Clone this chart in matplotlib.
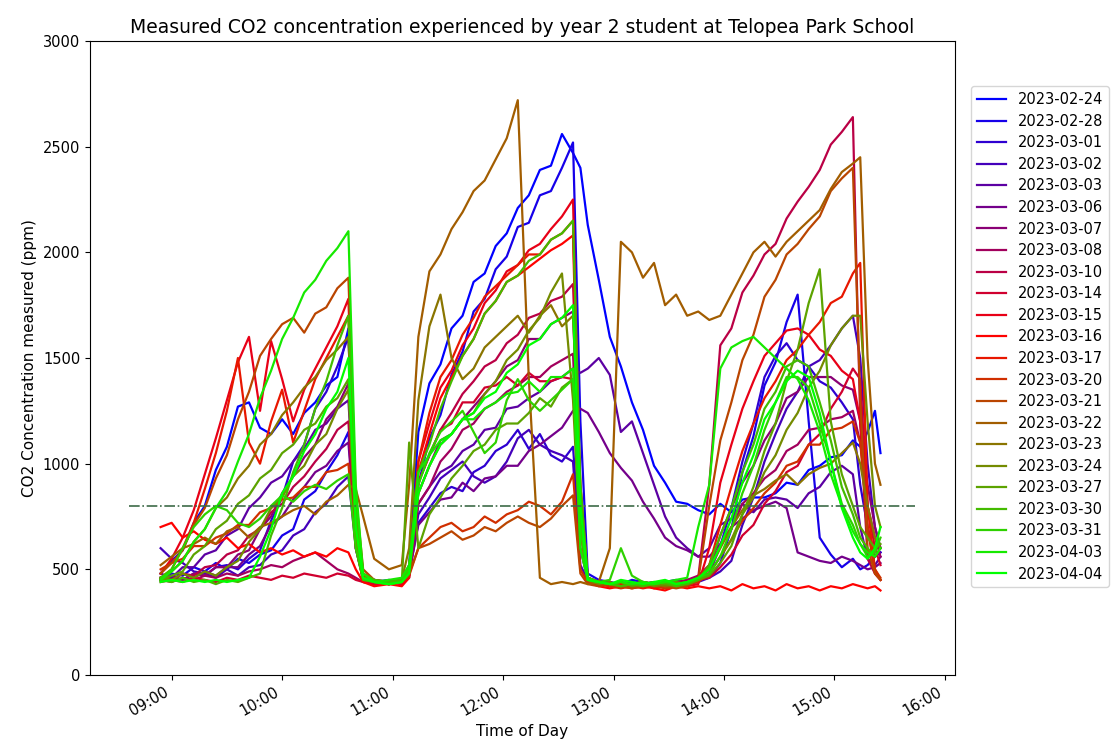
import numpy as np
import pandas as pd
import matplotlib
matplotlib.use("Agg")
import matplotlib.pyplot as plt
import matplotlib.dates as mdates

# sample times shared by every day (HH:MM)
times = ["08:54", "09:00", "09:06", "09:12", "09:18", "09:24", "09:30", "09:36", "09:42",
         "09:48", "09:54", "10:00", "10:06", "10:12", "10:18", "10:24", "10:30", "10:36",
         "10:40", "10:44", "10:50", "10:58", "11:05",
         "11:09", "11:14", "11:20", "11:26", "11:32", "11:38", "11:44", "11:50", "11:56",
         "12:02", "12:08", "12:14", "12:20", "12:26", "12:32", "12:38",
         "12:42", "12:46", "12:52", "12:58", "13:04", "13:10", "13:16", "13:22", "13:28",
         "13:34", "13:40", "13:46",
         "13:52", "13:58", "14:04", "14:10", "14:16", "14:22", "14:28", "14:34", "14:40",
         "14:46", "14:52", "14:58", "15:04", "15:10",
         "15:14", "15:18", "15:22", "15:25"]

# CO2 (ppm) per day
s0224 = [480, 540, 590, 720, 800, 970, 1080, 1270, 1290, 1170, 1140, 1210, 1140, 1240, 1290, 1370, 1410, 1640,
         700, 470, 450, 440, 450,
         520, 1150, 1380, 1470, 1640, 1700, 1860, 1900, 2030, 2090, 2210, 2270, 2390, 2410, 2560, 2470,
         2400, 2130, 1870, 1600, 1460, 1290, 1160, 990, 910, 820, 810, 780,
         760, 810, 770, 830, 840, 840, 860, 910, 900, 970, 990, 1030, 1040, 1110,
         1080, 1150, 1250, 1050]
s0228 = [460, 480, 470, 510, 490, 530, 500, 550, 530, 570, 590, 660, 690, 830, 870, 960, 1040, 1150,
         600, 460, 440, 450, 440,
         500, 900, 1120, 1230, 1420, 1530, 1720, 1780, 1920, 1980, 2120, 2140, 2270, 2290, 2400, 2520,
         1200, 480, 450, 440, 430, 450, 440, 430, 440, 450, 430, 450,
         460, 530, 690, 960, 1130, 1370, 1480, 1670, 1800, 1200, 650, 570, 510, 550,
         500, 520, 560, 580]
s0301 = [450, 460, 450, 480, 470, 510, 520, 500, 550, 590, 730, 840, 1010, 1090, 1260, 1340, 1460, 1600,
         700, 470, 450, 430, 440,
         480, 720, 790, 860, 890, 870, 960, 990, 1060, 1090, 1160, 1070, 1140, 1040, 1010, 1080,
         600, 450, 440, 430, 440, 430, 420, 430, 440, 430, 450, 460,
         480, 610, 790, 1010, 1190, 1410, 1510, 1570, 1490, 1460, 1390, 1360, 1290, 1210,
         900, 700, 560, 580]
s0302 = [600, 550, 530, 490, 480, 460, 500, 470, 510, 520, 570, 590, 660, 690, 770, 810, 890, 940,
         600, 450, 440, 430, 450,
         500, 760, 840, 930, 970, 1010, 940, 910, 940, 1010, 1120, 1160, 1090, 1060, 1040, 1010,
         520, 450, 440, 430, 430, 440, 430, 440, 430, 420, 430, 440,
         460, 490, 540, 710, 840, 1010, 1140, 1260, 1340, 1460, 1490, 1560, 1640, 1700,
         1500, 1000, 700, 600]
s0303 = [480, 460, 510, 510, 570, 590, 660, 690, 790, 840, 910, 940, 1010, 1070, 1160, 1190, 1260, 1300,
         700, 460, 440, 430, 440,
         500, 810, 890, 960, 990, 1060, 1090, 1160, 1170, 1260, 1270, 1310, 1340, 1390, 1410, 1450,
         1430, 1450, 1500, 1420, 1150, 1200, 1050, 900, 750, 650, 600, 560,
         600, 710, 740, 810, 770, 830, 840, 830, 790, 860, 890, 960, 990, 950,
         700, 550, 520, 560]
s0306 = [460, 450, 480, 460, 490, 470, 510, 510, 570, 610, 710, 750, 830, 890, 960, 990, 1060, 1100,
         650, 450, 440, 440, 450,
         480, 710, 770, 830, 840, 910, 870, 930, 940, 990, 990, 1060, 1090, 1130, 1170, 1250,
         1260, 1240, 1150, 1050, 980, 920, 820, 740, 650, 610, 590, 560,
         560, 620, 700, 740, 780, 800, 820, 790, 580, 560, 540, 530, 560, 540,
         520, 500, 510, 530]
s0307 = [450, 470, 450, 480, 470, 510, 510, 570, 590, 690, 750, 860, 940, 1030, 1090, 1210, 1270, 1380,
         650, 450, 430, 440, 440,
         500, 860, 990, 1110, 1140, 1210, 1270, 1330, 1390, 1460, 1490, 1590, 1590, 1660, 1690, 1720,
         800, 460, 440, 430, 440, 420, 430, 440, 420, 430, 440, 450,
         500, 660, 790, 910, 990, 1110, 1190, 1310, 1340, 1410, 1410, 1410, 1370, 1350,
         1200, 900, 700, 600]
s0308 = [450, 440, 460, 450, 470, 460, 480, 470, 490, 500, 520, 510, 540, 560, 580, 540, 500, 480,
         460, 440, 430, 440, 430,
         460, 810, 890, 1010, 1070, 1160, 1190, 1260, 1290, 1340, 1370, 1410, 1410, 1460, 1490, 1520,
         700, 450, 430, 440, 420, 430, 440, 430, 420, 440, 450, 470,
         520, 610, 690, 810, 860, 930, 970, 1060, 1090, 1160, 1170, 1210, 1220, 1250,
         1100, 800, 650, 560]
s0310 = [460, 450, 480, 470, 510, 520, 570, 590, 660, 690, 770, 810, 890, 940, 1010, 1070, 1160, 1200,
         620, 450, 440, 430, 440,
         480, 910, 1040, 1160, 1240, 1330, 1390, 1460, 1490, 1570, 1610, 1690, 1710, 1770, 1790, 1850,
         900, 460, 440, 430, 420, 430, 440, 420, 430, 440, 430, 460,
         900, 1560, 1640, 1810, 1890, 1990, 2040, 2160, 2240, 2310, 2390, 2510, 2570, 2640,
         1200, 550, 480, 450]
s0314 = [440, 450, 440, 460, 450, 440, 460, 450, 470, 460, 450, 470, 460, 480, 470, 460, 480, 470,
         450, 440, 430, 440, 430,
         470, 910, 1040, 1160, 1190, 1290, 1290, 1360, 1370, 1410, 1370, 1430, 1390, 1390, 1410, 1400,
         700, 450, 440, 430, 420, 430, 440, 430, 420, 430, 440, 450,
         460, 510, 570, 660, 710, 810, 870, 960, 990, 1090, 1140, 1260, 1340, 1450,
         1400, 800, 600, 520]
s0315 = [480, 550, 650, 780, 950, 1120, 1300, 1480, 1600, 1250, 1580, 1400, 1200, 1350, 1450, 1550, 1650, 1780,
         800, 480, 440, 430, 450,
         500, 1010, 1190, 1360, 1440, 1560, 1640, 1760, 1820, 1910, 1940, 2010, 2040, 2110, 2170, 2250,
         800, 460, 440, 420, 430, 420, 430, 410, 420, 430, 420, 430,
         600, 910, 1090, 1260, 1390, 1510, 1570, 1630, 1640, 1610, 1540, 1510, 1440, 1400,
         1200, 700, 480, 450]
s0316 = [700, 720, 650, 680, 640, 620, 650, 600, 620, 580, 600, 570, 590, 560, 580, 560, 600, 580,
         500, 440, 420, 430, 420,
         460, 960, 1140, 1310, 1410, 1510, 1590, 1710, 1770, 1860, 1890, 1930, 1970, 2010, 2040, 2080,
         700, 440, 420, 410, 420, 410, 420, 410, 400, 420, 410, 420,
         410, 420, 400, 430, 410, 420, 400, 430, 410, 420, 400, 420, 410, 430,
         420, 410, 420, 400]
s0317 = [460, 500, 600, 720, 880, 1050, 1250, 1500, 1100, 1000, 1200, 1350, 1100, 1250, 1400, 1500, 1600, 1700,
         750, 470, 440, 430, 440,
         490, 1010, 1240, 1410, 1490, 1610, 1690, 1790, 1840, 1890, 1940, 1990, 1990, 2060, 2090, 2150,
         750, 450, 430, 420, 430, 420, 410, 420, 430, 420, 430, 450,
         520, 710, 890, 1060, 1190, 1310, 1390, 1490, 1540, 1610, 1670, 1760, 1790, 1900,
         1950, 800, 500, 450]
s0320 = [500, 530, 550, 610, 610, 650, 670, 710, 710, 770, 790, 830, 840, 890, 890, 960, 970, 1000,
         600, 450, 440, 430, 440,
         470, 600, 650, 700, 720, 680, 700, 750, 720, 760, 780, 820, 800, 760, 820, 950,
         500, 440, 430, 420, 410, 420, 430, 420, 410, 420, 430, 440,
         480, 560, 640, 730, 790, 860, 910, 990, 1010, 1090, 1090, 1160, 1170, 1200,
         1100, 700, 500, 460]
s0321 = [480, 530, 590, 710, 790, 930, 1040, 1210, 1340, 1510, 1590, 1660, 1690, 1620, 1710, 1740, 1830, 1880,
         850, 500, 450, 440, 450,
         480, 600, 620, 650, 680, 640, 660, 700, 680, 720, 750, 720, 700, 740, 800, 850,
         480, 430, 420, 430, 420, 410, 420, 430, 420, 410, 420, 450,
         800, 1110, 1290, 1490, 1610, 1790, 1870, 1990, 2040, 2110, 2170, 2290, 2350, 2400,
         1300, 600, 480, 450]
s0322 = [520, 560, 600, 620, 650, 620, 680, 700, 650, 700, 720, 750, 780, 800, 760, 820, 850, 900,
         880, 750, 550, 500, 520,
         900, 1600, 1910, 1990, 2110, 2190, 2290, 2340, 2440, 2540, 2720, 1400, 460, 430, 440, 430,
         440, 430, 440, 600, 2050, 2000, 1880, 1950, 1750, 1800, 1700, 1720,
         1680, 1700, 1800, 1900, 2000, 2050, 1980, 2050, 2100, 2150, 2200, 2300, 2380, 2420,
         2450, 1500, 1000, 900]
s0323 = [450, 490, 540, 630, 690, 790, 840, 930, 990, 1090, 1140, 1230, 1290, 1360, 1410, 1490, 1540, 1600,
         750, 480, 450, 440, 450,
         600, 1300, 1650, 1800, 1500, 1400, 1450, 1550, 1600, 1650, 1700, 1620, 1700, 1750, 1650, 1700,
         900, 460, 440, 430, 420, 430, 440, 430, 420, 430, 440, 450,
         500, 600, 700, 780, 850, 880, 920, 950, 900, 950, 980, 1000, 1050, 1100,
         1000, 800, 650, 600]
s0324 = [460, 450, 480, 460, 490, 470, 510, 540, 630, 690, 790, 840, 940, 990, 1090, 1140, 1260, 1350,
         650, 460, 440, 430, 440,
         520, 860, 990, 1090, 1140, 1210, 1240, 1330, 1390, 1490, 1540, 1630, 1690, 1810, 1900, 1300,
         600, 450, 430, 440, 420, 430, 440, 420, 430, 440, 430, 450,
         480, 560, 640, 760, 840, 960, 1040, 1160, 1240, 1360, 1440, 1560, 1640, 1700,
         1700, 1200, 800, 700]
s0327 = [450, 470, 490, 570, 610, 690, 730, 810, 850, 930, 970, 1050, 1090, 1160, 1190, 1270, 1310, 1400,
         700, 460, 440, 430, 440,
         1100, 600, 760, 840, 930, 990, 1060, 1090, 1160, 1190, 1190, 1240, 1310, 1270, 1360, 1400,
         700, 450, 440, 430, 440, 420, 430, 440, 430, 420, 440, 450,
         470, 530, 610, 760, 890, 1060, 1190, 1390, 1540, 1760, 1920, 1200, 950, 800,
         700, 650, 600, 620]
s0330 = [450, 440, 460, 440, 450, 430, 450, 440, 460, 480, 660, 790, 960, 1090, 1260, 1390, 1560, 1700,
         800, 480, 450, 440, 450,
         500, 960, 1090, 1260, 1390, 1510, 1590, 1710, 1770, 1860, 1890, 1960, 1990, 2060, 2090, 2150,
         900, 460, 440, 430, 420, 430, 420, 430, 440, 420, 430, 450,
         520, 660, 790, 960, 1090, 1260, 1340, 1460, 1490, 1460, 1290, 1110, 890, 760,
         650, 600, 560, 600]
s0331 = [460, 500, 600, 700, 760, 800, 780, 720, 700, 740, 800, 850, 820, 870, 900, 880, 920, 950,
         600, 450, 440, 430, 440,
         500, 900, 1050, 1150, 1200, 1250, 1150, 1050, 1100, 1300, 1400, 1300, 1250, 1300, 1350, 1400,
         700, 460, 440, 450, 600, 470, 440, 430, 440, 430, 440, 460,
         480, 560, 690, 860, 990, 1160, 1290, 1410, 1410, 1360, 1190, 1010, 810, 710,
         620, 560, 580, 650]
s0403 = [450, 490, 540, 630, 690, 790, 870, 1010, 1140, 1310, 1440, 1590, 1690, 1810, 1870, 1960, 2020, 2100,
         900, 480, 440, 450, 460,
         520, 960, 1040, 1110, 1140, 1210, 1210, 1260, 1290, 1330, 1340, 1390, 1340, 1410, 1410, 1450,
         600, 450, 440, 430, 440, 430, 440, 430, 440, 450, 460, 700,
         900, 1450, 1550, 1580, 1600, 1550, 1500, 1450, 1400, 1300, 1150, 950, 800, 680,
         620, 580, 560, 600]
s0404 = [440, 450, 440, 450, 440, 450, 440, 450, 460, 560, 690, 860, 940, 1060, 1140, 1260, 1340, 1500,
         700, 460, 440, 430, 440,
         480, 860, 990, 1090, 1140, 1210, 1240, 1310, 1340, 1430, 1470, 1560, 1590, 1660, 1690, 1750,
         800, 450, 440, 430, 450, 440, 430, 440, 450, 430, 440, 460,
         500, 610, 740, 910, 1040, 1210, 1290, 1390, 1440, 1410, 1240, 1010, 790, 650,
         580, 550, 600, 700]

labels = ["2023-02-24", "2023-02-28", "2023-03-01", "2023-03-02", "2023-03-03", "2023-03-06",
          "2023-03-07", "2023-03-08", "2023-03-10", "2023-03-14", "2023-03-15", "2023-03-16",
          "2023-03-17", "2023-03-20", "2023-03-21", "2023-03-22", "2023-03-23", "2023-03-24",
          "2023-03-27", "2023-03-30", "2023-03-31", "2023-04-03", "2023-04-04"]
days = [s0224, s0228, s0301, s0302, s0303, s0306, s0307, s0308, s0310, s0314, s0315, s0316,
        s0317, s0320, s0321, s0322, s0323, s0324, s0327, s0330, s0331, s0403, s0404]

# 800 ppm guideline
threshold = 800
threshold_span = ["08:37", "15:44"]

for lab, d in zip(labels, days):
    assert len(d) == len(times), (lab, len(d))

x = pd.to_datetime(["2023-01-01 " + t for t in times])
colors = plt.cm.brg(np.linspace(0, 1, len(days)))

fig = plt.figure(figsize=(11.18, 7.46), dpi=100)
ax = fig.add_axes([0.0805, 0.0952, 0.7735, 0.8498])

for lab, d, c in zip(labels, days, colors):
    ax.plot(x, d, color=c, lw=1.6, label=lab)

ax.plot(pd.to_datetime(["2023-01-01 " + t for t in threshold_span]), [threshold, threshold],
        linestyle='-.', color='#3d6b48', lw=1.2)

ax.set_ylim(0, 3000)
ax.xaxis.set_major_locator(mdates.HourLocator())
ax.xaxis.set_major_formatter(mdates.DateFormatter('%H:%M'))
ax.tick_params(labelsize=10.5)
plt.setp(ax.get_xticklabels(), rotation=30, ha='right')

ax.set_title('Measured CO2 concentration experienced by year 2 student at Telopea Park School', fontsize=13.5)
ax.set_xlabel('Time of Day', fontsize=11)
ax.set_ylabel('CO2 Concentration measured (ppm)', fontsize=11)
ax.legend(loc='upper left', bbox_to_anchor=(1.01, 0.94), fontsize=10.5, labelspacing=0.45)

fig.savefig('out.png', dpi=100)
